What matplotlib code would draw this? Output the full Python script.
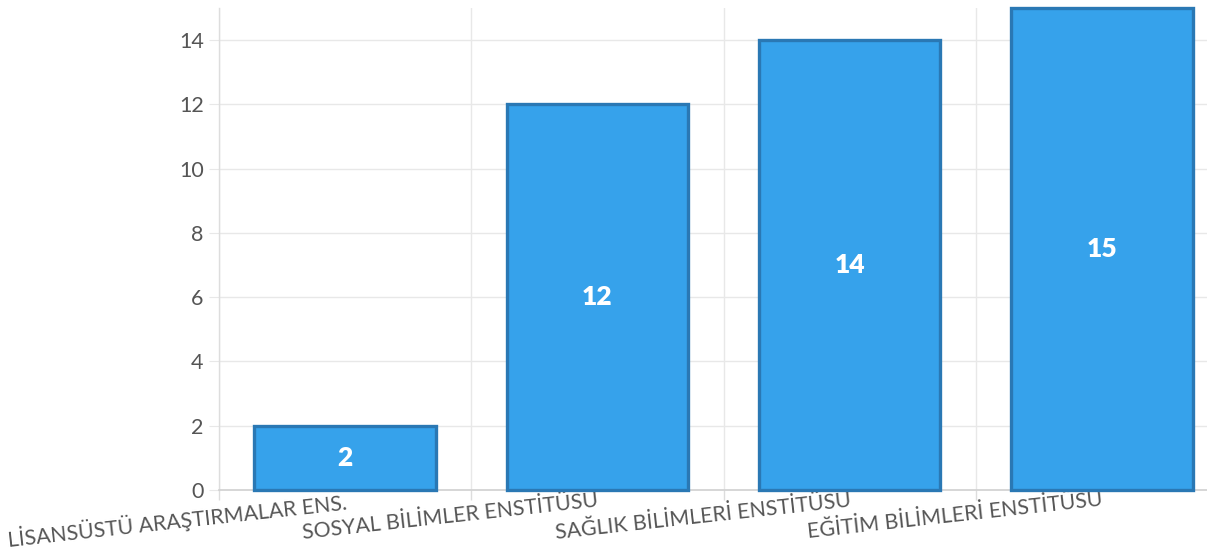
import matplotlib
matplotlib.use("Agg")
import matplotlib.pyplot as plt

categories = ["LİSANSÜSTÜ ARAŞTIRMALAR ENS.", "SOSYAL BİLİMLER ENSTİTÜSU",
              "SAĞLIK BİLİMLERİ ENSTİTÜSU", "EĞİTİM BİLİMLERİ ENSTİTÜSU"]
values = [2, 12, 14, 15]
yticks = [0, 2, 4, 6, 8, 10, 12, 14]

plt.rcParams['font.family'] = ['Lato', 'DejaVu Sans']

fig = plt.figure(figsize=(12.07, 5.5), dpi=100)
ax = fig.add_axes([219/1207, 60/550, 1009/1207, 482/550])

x = list(range(len(categories)))
bars = ax.bar(x, values, width=0.72, color="#36A2EB", edgecolor="#2A78B4",
              linewidth=2.4, zorder=3)
for b in bars:
    b.set_clip_on(False)
for xi, v in zip(x, values):
    ax.text(xi, v / 2, str(v), ha="center", va="center", color="white",
            fontsize=19, fontweight="heavy", zorder=4)

ax.set_xlim(-0.5, len(categories) - 0.5)
ax.set_ylim(0, 15)
ax.set_yticks(yticks)
ax.set_yticklabels([str(t) for t in yticks])

# grid: horizontal at y ticks, vertical at category boundaries
for t in yticks:
    ax.axhline(t, color="#e8e8e8", linewidth=1, zorder=0)
for b in [i - 0.5 for i in range(len(categories) + 1)]:
    ax.axvline(b, color="#e8e8e8", linewidth=1, zorder=0)

ax.set_xticks(x)
ax.set_xticklabels(categories, rotation=6.3, ha="right", rotation_mode="anchor",
                   fontsize=15.3, color="#555555")
ax.set_xticks([i - 0.5 for i in range(len(categories) + 1)], minor=True)
ax.tick_params(axis="x", which="major", length=0, pad=0)
ax.tick_params(axis="x", which="minor", length=7, color="#dddddd", width=1)
ax.tick_params(axis="y", length=7, color="#e8e8e8", labelsize=15.5,
               labelcolor="#555555", pad=4)

for s in ["top", "right"]:
    ax.spines[s].set_visible(False)
ax.spines["left"].set_color("#dddddd")
ax.spines["bottom"].set_color("#d0d0d0")
ax.spines["left"].set_linewidth(1)
ax.spines["bottom"].set_linewidth(1.2)

fig.savefig("out.png", dpi=100)
